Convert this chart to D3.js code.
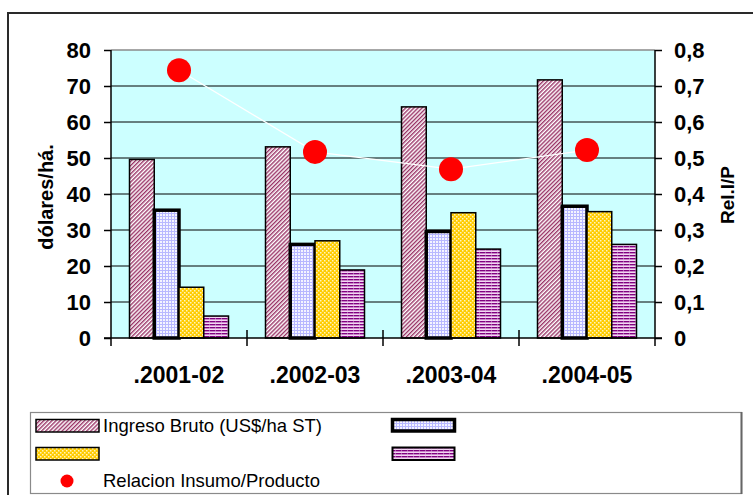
<!DOCTYPE html>
<html>
<head>
<meta charset="utf-8">
<script src="https://cdn.jsdelivr.net/npm/d3@7"></script>
<style>
  html, body { margin: 0; padding: 0; background: #fff; }
  svg { display: block; font-family: "Liberation Sans", Arial, sans-serif; }
</style>
</head>
<body>
<svg id="chart" width="753" height="495"></svg>
<script>
// Campaigns on the category axis
const categories = [".2001-02", ".2002-03", ".2003-04", ".2004-05"];

// Bar series (US$/ha)
const ingresoBruto = [49.6, 53.1, 64.2, 71.7];
const serieAzul = [35.5, 26.0, 29.6, 36.6];
const serieAmarilla = [14.1, 27.0, 34.8, 35.1];
const serieVioleta = [6.1, 18.9, 24.7, 26.0];

// Input/output ratio (right axis)
const relacionIP = [0.744, 0.517, 0.469, 0.522];

// Axis ticks
const leftTicks = [0, 10, 20, 30, 40, 50, 60, 70, 80];
const rightTicks = [0, 0.1, 0.2, 0.3, 0.4, 0.5, 0.6, 0.7, 0.8];
const rightTickLabels = ["0", "0,1", "0,2", "0,3", "0,4", "0,5", "0,6", "0,7", "0,8"];

const legendLabels = ["Ingreso Bruto (US$/ha ST)", "", "", "", "Relacion Insumo/Producto"];

const svg = d3.select("#chart");
const defs = svg.append("defs");

// --- fill patterns ---
const pDiag = defs.append("pattern").attr("id", "pDiag")
  .attr("patternUnits", "userSpaceOnUse").attr("width", 2.9).attr("height", 2.9)
  .attr("patternTransform", "rotate(45)");
pDiag.append("rect").attr("width", 2.9).attr("height", 2.9).attr("fill", "#fff");
pDiag.append("rect").attr("width", 1.4).attr("height", 2.9).attr("fill", "#993366");

const pGrid = defs.append("pattern").attr("id", "pGrid")
  .attr("patternUnits", "userSpaceOnUse").attr("width", 3).attr("height", 3);
pGrid.append("rect").attr("width", 3).attr("height", 3).attr("fill", "#f4f4ff");
pGrid.append("rect").attr("width", 3).attr("height", 1).attr("fill", "#b8b8ff");
pGrid.append("rect").attr("width", 1).attr("height", 3).attr("fill", "#b8b8ff");

const pDots = defs.append("pattern").attr("id", "pDots")
  .attr("patternUnits", "userSpaceOnUse").attr("width", 4).attr("height", 4);
pDots.append("rect").attr("width", 4).attr("height", 4).attr("fill", "#ffcc00");
pDots.append("rect").attr("x", 0).attr("y", 0).attr("width", 1.5).attr("height", 1.5).attr("fill", "#fff4c0");
pDots.append("rect").attr("x", 2).attr("y", 2).attr("width", 1.5).attr("height", 1.5).attr("fill", "#fff4c0");

const pHoriz = defs.append("pattern").attr("id", "pHoriz")
  .attr("patternUnits", "userSpaceOnUse").attr("width", 6).attr("height", 3);
pHoriz.append("rect").attr("width", 6).attr("height", 3).attr("fill", "#f4d8f4");
pHoriz.append("rect").attr("width", 6).attr("height", 1.4).attr("fill", "#800080");
pHoriz.append("rect").attr("x", 5).attr("width", 0.8).attr("height", 3).attr("fill", "#e6c0e6").attr("opacity", 0.6);

const series = [
  { key: "ib", values: ingresoBruto, fill: "url(#pDiag)", sw: 1.5 },
  { key: "az", values: serieAzul, fill: "url(#pGrid)", sw: 3.5 },
  { key: "am", values: serieAmarilla, fill: "url(#pDots)", sw: 1.5 },
  { key: "vi", values: serieVioleta, fill: "url(#pHoriz)", sw: 1.5 }
];

// --- outer frame ---
svg.append("rect").attr("x", 8).attr("y", 13).attr("width", 760).attr("height", 500)
  .attr("fill", "none").attr("stroke", "#2a2a2a").attr("stroke-width", 2);

// --- plot geometry ---
const plot = { left: 111, right: 655, top: 50, bottom: 338 };

const x = d3.scaleBand().domain(categories).range([plot.left, plot.right]).padding(0);
const xInner = d3.scaleBand().domain(series.map(s => s.key)).range([18.5, 117.5]).padding(0);
const y = d3.scaleLinear().domain([0, 80]).range([plot.bottom, plot.top]);
const y2 = d3.scaleLinear().domain([0, 0.8]).range([plot.bottom, plot.top]);

// background
svg.append("rect").attr("x", plot.left).attr("y", plot.top)
  .attr("width", plot.right - plot.left).attr("height", plot.bottom - plot.top)
  .attr("fill", "#ccffff");

// gridlines
svg.append("g").selectAll("line").data(leftTicks.filter(d => d > 0 && d < 80)).join("line")
  .attr("x1", plot.left).attr("x2", plot.right)
  .attr("y1", d => y(d)).attr("y2", d => y(d))
  .attr("stroke", "#000").attr("stroke-width", 1);
svg.append("line").attr("x1", plot.left).attr("x2", plot.right)
  .attr("y1", y(80)).attr("y2", y(80)).attr("stroke", "#8a8a8a").attr("stroke-width", 1.5);

// bars
const barGroups = svg.append("g").selectAll("g").data(series).join("g");
barGroups.selectAll("rect")
  .data(s => s.values.map((v, i) => ({ v, cat: categories[i], s })))
  .join("rect")
  .attr("x", d => x(d.cat) + xInner(d.s.key))
  .attr("y", d => y(d.v))
  .attr("width", xInner.bandwidth())
  .attr("height", d => y(0) - y(d.v))
  .attr("fill", d => d.s.fill)
  .attr("stroke", "#000")
  .attr("stroke-width", d => d.s.sw);

// axes lines
const axisG = svg.append("g").attr("stroke", "#000").attr("stroke-width", 1.5);
axisG.append("line").attr("x1", plot.left).attr("x2", plot.left).attr("y1", plot.top).attr("y2", plot.bottom + 8);
axisG.append("line").attr("x1", plot.right).attr("x2", plot.right).attr("y1", plot.top).attr("y2", plot.bottom + 8);
axisG.append("line").attr("x1", plot.left - 7).attr("x2", plot.right + 7).attr("y1", plot.bottom).attr("y2", plot.bottom);
// category separators
const bounds = categories.map(c => x(c)).concat([plot.right]);
axisG.selectAll("line.sep").data(bounds.slice(1, -1)).join("line").attr("class", "sep")
  .attr("x1", d => d).attr("x2", d => d).attr("y1", plot.bottom - 8).attr("y2", plot.bottom + 8);

// left axis
const leftAxis = svg.append("g").attr("transform", `translate(${plot.left},0)`)
  .call(d3.axisLeft(y).tickValues(leftTicks).tickSize(7).tickSizeOuter(0).tickPadding(13));
leftAxis.select(".domain").remove();
leftAxis.selectAll("line").attr("stroke", "#000").attr("stroke-width", 1.5);
leftAxis.selectAll("text").attr("font-size", 22).attr("font-weight", "bold").attr("fill", "#000")
  .attr("font-family", "Liberation Sans, Arial, sans-serif");

// right axis
const rightAxis = svg.append("g").attr("transform", `translate(${plot.right},0)`)
  .call(d3.axisRight(y2).tickValues(rightTicks).tickSize(7).tickSizeOuter(0).tickPadding(12)
    .tickFormat((d, i) => rightTickLabels[i]));
rightAxis.select(".domain").remove();
rightAxis.selectAll("line").attr("stroke", "#000").attr("stroke-width", 1.5);
rightAxis.selectAll("text").attr("font-size", 22).attr("font-weight", "bold").attr("fill", "#000")
  .attr("font-family", "Liberation Sans, Arial, sans-serif");

// category labels
svg.append("g").selectAll("text").data(categories).join("text")
  .attr("x", d => x(d) + x.bandwidth() / 2)
  .attr("y", 383)
  .attr("text-anchor", "middle")
  .attr("font-size", 23).attr("font-weight", "bold")
  .text(d => d);

// axis titles
svg.append("text").attr("transform", "translate(53,197) rotate(-90)")
  .attr("text-anchor", "middle").attr("font-size", 20).attr("font-weight", "bold")
  .text("dólares/há.");
svg.append("text").attr("transform", "translate(734,195) rotate(-90)")
  .attr("text-anchor", "middle").attr("font-size", 19).attr("font-weight", "bold")
  .text("Rel.I/P");

// ratio line + markers
const line = d3.line().x((d, i) => x(categories[i]) + x.bandwidth() / 2).y(d => y2(d));
svg.append("path").datum(relacionIP).attr("d", line)
  .attr("fill", "none").attr("stroke", "#fff").attr("stroke-width", 1.2);
svg.append("g").selectAll("circle").data(relacionIP).join("circle")
  .attr("cx", (d, i) => x(categories[i]) + x.bandwidth() / 2)
  .attr("cy", d => y2(d))
  .attr("r", 12)
  .attr("fill", "#ff0000");

// --- legend ---
const lg = svg.append("g");
lg.append("rect").attr("x", 30.5).attr("y", 412.5).attr("width", 711).attr("height", 81)
  .attr("fill", "#fff").attr("stroke", "#8a8a8a").attr("stroke-width", 1.2);
lg.append("line").attr("x1", 741.5).attr("x2", 741.5).attr("y1", 412).attr("y2", 494)
  .attr("stroke", "#666").attr("stroke-width", 2);

const legendItems = [
  { fill: "url(#pDiag)", sw: 1.5, x: 36, y: 419.5, w: 63, h: 12.5 },
  { fill: "url(#pGrid)", sw: 3.5, x: 392.5, y: 419.5, w: 62, h: 11.5 },
  { fill: "url(#pDots)", sw: 1.5, x: 36, y: 447.5, w: 63, h: 12.5 },
  { fill: "url(#pHoriz)", sw: 2, x: 392.5, y: 447.5, w: 62, h: 12.5 }
];
lg.selectAll("rect.sw").data(legendItems).join("rect").attr("class", "sw")
  .attr("x", d => d.x).attr("y", d => d.y).attr("width", d => d.w).attr("height", d => d.h)
  .attr("fill", d => d.fill).attr("stroke", "#000").attr("stroke-width", d => d.sw);

lg.append("circle").attr("cx", 67).attr("cy", 481).attr("r", 6.5).attr("fill", "#ff0000");

lg.append("text").attr("x", 103).attr("y", 432).attr("font-size", 18.5).text(legendLabels[0]);
lg.append("text").attr("x", 103).attr("y", 487).attr("font-size", 18.5).text(legendLabels[4]);
</script>
</body>
</html>
